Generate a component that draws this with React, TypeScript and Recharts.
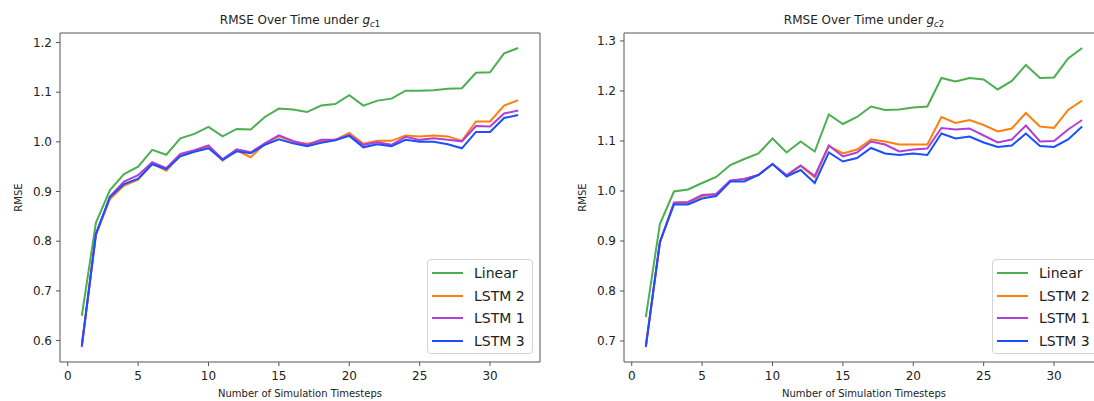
import { Legend, Line, LineChart, ReferenceLine, XAxis, YAxis } from "recharts";

const steps = [
  1, 2, 3, 4, 5, 6, 7, 8, 9, 10, 11, 12, 13, 14, 15, 16, 17, 18, 19, 20, 21,
  22, 23, 24, 25, 26, 27, 28, 29, 30, 31, 32,
];

// g_c1 panel
const linearC1 = [
  0.65, 0.837, 0.903, 0.935, 0.95, 0.984, 0.974, 1.007, 1.016, 1.03, 1.011,
  1.026, 1.025, 1.05, 1.067, 1.065, 1.06, 1.073, 1.076, 1.094, 1.073, 1.083,
  1.087, 1.103, 1.103, 1.104, 1.107, 1.108, 1.139, 1.14, 1.178, 1.189,
];
const lstm2C1 = [
  0.592, 0.812, 0.885, 0.912, 0.924, 0.956, 0.942, 0.973, 0.982, 0.99, 0.962,
  0.983, 0.969, 0.996, 1.011, 1.0, 0.996, 1.001, 1.004, 1.018, 0.996, 1.002,
  1.002, 1.013, 1.011, 1.013, 1.011, 1.002, 1.041, 1.041, 1.073, 1.084,
];
const lstm1C1 = [
  0.587, 0.813, 0.89, 0.92, 0.933, 0.959, 0.947, 0.976, 0.983, 0.993, 0.965,
  0.985, 0.979, 0.997, 1.013, 1.002, 0.994, 1.004, 1.004, 1.014, 0.994, 0.999,
  0.994, 1.01, 1.004, 1.007, 1.004, 1.001, 1.032, 1.031, 1.057, 1.063,
];
const lstm3C1 = [
  0.59, 0.815, 0.889, 0.915, 0.926, 0.955, 0.945, 0.971, 0.98, 0.987, 0.964,
  0.981, 0.977, 0.994, 1.005, 0.997, 0.991, 0.998, 1.003, 1.012, 0.989, 0.995,
  0.991, 1.004, 1.0, 1.0, 0.995, 0.987, 1.02, 1.02, 1.048, 1.054,
];

// g_c2 panel
const linearC2 = [
  0.748, 0.934, 0.999, 1.003, 1.016, 1.028, 1.052, 1.064, 1.075, 1.105, 1.077,
  1.099, 1.079, 1.153, 1.134, 1.148, 1.169, 1.162, 1.163, 1.167, 1.169, 1.226,
  1.219, 1.226, 1.223, 1.203, 1.22, 1.252, 1.226, 1.227, 1.265, 1.286,
];
const lstm2C2 = [
  0.69, 0.898, 0.975, 0.976, 0.99, 0.993, 1.02, 1.024, 1.032, 1.054, 1.03,
  1.05, 1.027, 1.09, 1.075, 1.083, 1.103, 1.099, 1.093, 1.093, 1.093, 1.148,
  1.136, 1.142, 1.132, 1.119, 1.125, 1.156, 1.129, 1.126, 1.162, 1.181,
];
const lstm1C2 = [
  0.688, 0.897, 0.977, 0.978, 0.992, 0.994, 1.021, 1.024, 1.032, 1.054, 1.032,
  1.051, 1.03, 1.091, 1.069, 1.077, 1.099, 1.093, 1.079, 1.083, 1.085, 1.126,
  1.123, 1.125, 1.111, 1.097, 1.103, 1.131, 1.099, 1.1, 1.123, 1.142,
];
const lstm3C2 = [
  0.689, 0.898, 0.973, 0.973, 0.985, 0.99, 1.019, 1.019, 1.032, 1.054, 1.029,
  1.042, 1.016, 1.077, 1.059, 1.066, 1.086, 1.075, 1.072, 1.075, 1.072, 1.115,
  1.105, 1.109, 1.097, 1.088, 1.091, 1.115, 1.09, 1.088, 1.103, 1.129,
];

const xTicks = [0, 5, 10, 15, 20, 25, 30];
const yTicksC1 = [0.6, 0.7, 0.8, 0.9, 1.0, 1.1, 1.2];
const yTicksC2 = [0.7, 0.8, 0.9, 1.0, 1.1, 1.2, 1.3];

const seriesNames = ["Linear", "LSTM 2", "LSTM 1", "LSTM 3"];
const seriesColors = ["#4caf50", "#ff7f0e", "#b03fd6", "#1a4fff"];

const FONT = '"DejaVu Sans", sans-serif';
const AXIS = "#555";
const TEXT = "#222";

const buildRows = (cols: number[][]) =>
  steps.map((step, i) => {
    const row: Record<string, number> = { step };
    cols.forEach((c, k) => (row["s" + k] = c[i]));
    return row;
  });

// matplotlib-style 5% margins
const padded = (cols: number[][]): [number, number] => {
  const all = cols.flat();
  const lo = Math.min(...all);
  const hi = Math.max(...all);
  const m = (hi - lo) * 0.05;
  return [lo - m, hi + m];
};
const xDomain = padded([steps]);

const LegendBox = ({ payload }: any) => {
  const items = [...(payload || [])].sort(
    (a: any, b: any) => seriesNames.indexOf(a.value) - seriesNames.indexOf(b.value)
  );
  return (
    <div
      style={{
        background: "rgba(255,255,255,0.85)",
        border: "1px solid #d4d4d4",
        borderRadius: 4,
        padding: "2px 4px",
        fontFamily: FONT,
        fontSize: 14,
        color: TEXT,
        boxSizing: "border-box",
        height: 95,
      }}
    >
      {items.map((p: any) => (
        <div
          key={p.value}
          style={{ display: "flex", alignItems: "center", height: 22.6 }}
        >
          <span
            style={{
              display: "inline-block",
              width: 31,
              height: 2,
              background: p.color,
              marginRight: 11,
            }}
          />
          <span>{p.value}</span>
        </div>
      ))}
    </div>
  );
};

const yLabel = (props: any) => {
  const vb = props.viewBox || { x: 0, y: 0, height: 0 };
  const x = vb.x + 18;
  const y = vb.y + vb.height / 2;
  return (
    <text
      x={x}
      y={y}
      transform={`rotate(-90 ${x} ${y})`}
      textAnchor="middle"
      dominantBaseline="central"
      fontSize={10}
      fill={TEXT}
      fontFamily={FONT}
    >
      RMSE
    </text>
  );
};

type PanelProps = {
  left: number;
  sub: string;
  cols: number[][];
  yTicks: number[];
  legendLeft: number;
};

const Panel = ({ left, sub, cols, yTicks, legendLeft }: PanelProps) => {
  const rows = buildRows(cols);
  const yDomain = padded(cols);
  return (
    <div style={{ position: "absolute", left, top: 0, width: 550, height: 401 }}>
      <div
        style={{
          position: "absolute",
          left: 60,
          top: 12,
          width: 480,
          textAlign: "center",
          fontSize: 12,
          lineHeight: "16px",
          color: TEXT,
          fontFamily: FONT,
        }}
      >
        RMSE Over Time under <i>g</i>
        <span style={{ fontSize: 8.5, position: "relative", top: 3 }}>
          <i>c</i>
          {sub}
        </span>
      </div>
      <LineChart
        width={550}
        height={401}
        data={rows}
        margin={{ top: 33, right: 10, bottom: 0, left: 0 }}
        style={{ fontFamily: FONT }}
      >
        <XAxis
          dataKey="step"
          type="number"
          domain={xDomain}
          ticks={xTicks}
          allowDataOverflow
          height={39}
          tickSize={4}
          tickMargin={5}
          stroke={AXIS}
          tick={{ fill: TEXT, fontSize: 12 }}
          label={{
            value: "Number of Simulation Timesteps",
            position: "insideBottom",
            offset: 4,
            fontSize: 10,
            fill: TEXT,
          }}
        />
        <YAxis
          type="number"
          domain={yDomain}
          ticks={yTicks}
          allowDataOverflow
          width={60}
          tickSize={4}
          tickMargin={4}
          stroke={AXIS}
          tick={{ fill: TEXT, fontSize: 12 }}
          tickFormatter={(v: number) => v.toFixed(1)}
          label={yLabel}
        />
        {/* top and right frame lines */}
        <ReferenceLine y={yDomain[1]} stroke={AXIS} ifOverflow="extendDomain" />
        <ReferenceLine x={xDomain[1]} stroke={AXIS} ifOverflow="extendDomain" />
        {seriesNames.map((name, k) => (
          <Line
            key={name}
            type="linear"
            dataKey={"s" + k}
            name={name}
            stroke={seriesColors[k]}
            strokeWidth={2}
            dot={false}
            activeDot={false}
            isAnimationActive={false}
          />
        ))}
        <Legend
          layout="vertical"
          align="center"
          verticalAlign="middle"
          content={LegendBox}
          wrapperStyle={{ left: legendLeft, top: 259, width: 106 }}
        />
      </LineChart>
    </div>
  );
};

export default function App() {
  return (
    <div
      style={{
        position: "fixed",
        left: 0,
        top: 0,
        width: 1094,
        height: 401,
        overflow: "hidden",
        background: "#fff",
      }}
    >
      <Panel
        left={0}
        sub="1"
        cols={[linearC1, lstm2C1, lstm1C1, lstm3C1]}
        yTicks={yTicksC1}
        legendLeft={427}
      />
      <Panel
        left={564}
        sub="2"
        cols={[linearC2, lstm2C2, lstm1C2, lstm3C2]}
        yTicks={yTicksC2}
        legendLeft={428}
      />
    </div>
  );
}
